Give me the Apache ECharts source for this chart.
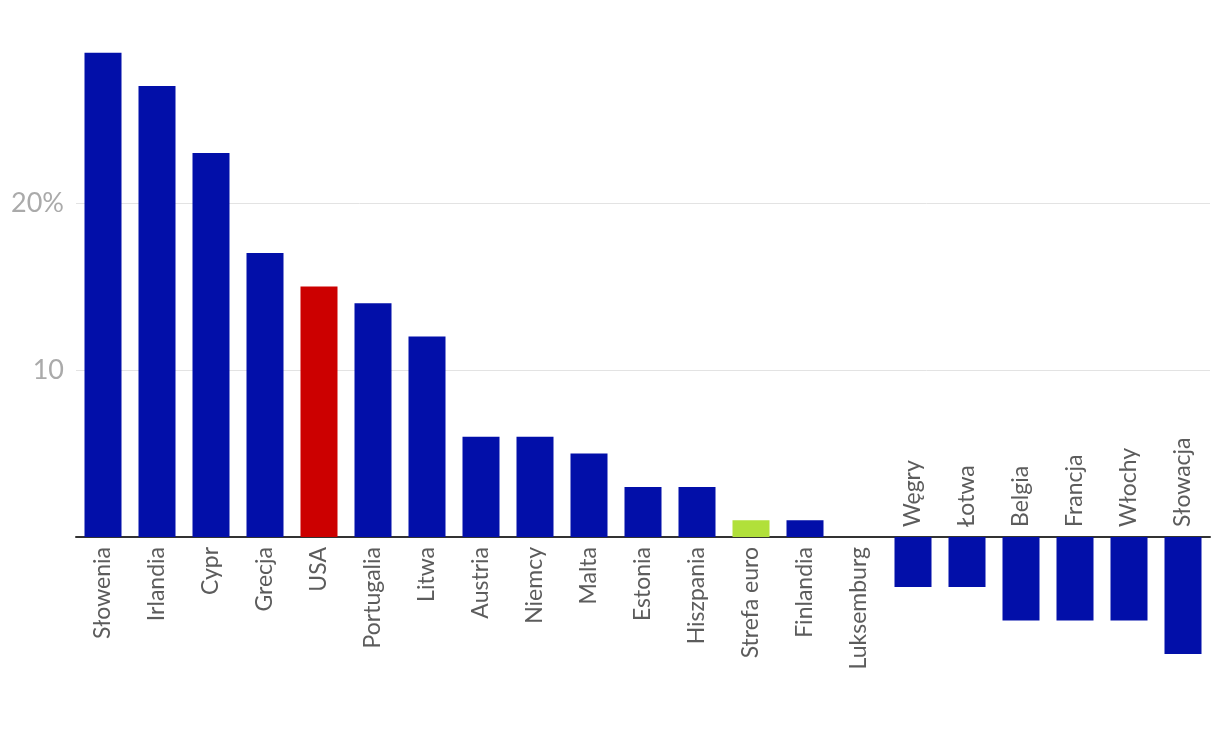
<!DOCTYPE html>
<html>
<head>
<meta charset="utf-8">
<script src="https://cdn.jsdelivr.net/npm/echarts@6/dist/echarts.min.js"></script>
<style>html,body{margin:0;padding:0;background:#fff}#c{width:1220px;height:742px}</style>
</head>
<body>
<div id="c"></div>
<script>
const categories = ['Słowenia','Irlandia','Cypr','Grecja','USA','Portugalia','Litwa','Austria','Niemcy','Malta','Estonia','Hiszpania','Strefa euro','Finlandia','Luksemburg','Węgry','Łotwa','Belgia','Francja','Włochy','Słowacja'];
const values = [29,27,23,17,15,14,12,6,6,5,3,3,1,1,0,-3,-3,-5,-5,-5,-7];
const highlight = {'USA':'#cc0000','Strefa euro':'#b1e03a'};
const baseColor = '#020fa9';
const yTicks = {10:'10',20:'20%'};

const chart = echarts.init(document.getElementById('c'), null, {renderer:'canvas'});
const FONT = 'Lato';
chart.setOption({
  animation:false,
  backgroundColor:'#fff',
  grid:{left:76,right:10,top:36,bottom:38},
  xAxis:{
    type:'category', data:categories,
    axisLine:{onZero:true,lineStyle:{color:'#333',width:2}},
    axisTick:{show:false}, axisLabel:{show:false}
  },
  yAxis:{
    type:'value', min:-10, max:30, interval:10,
    axisLine:{show:false}, axisTick:{show:false},
    axisLabel:{formatter:v=>yTicks[v]||'', color:'#aaa', fontSize:27, fontFamily:FONT, margin:12},
    splitLine:{lineStyle:{color:['transparent','transparent','#e3e3e3','#e3e3e3','transparent'],width:1}}
  },
  series:[
    {
      type:'bar', barWidth:37,
      data:values.map((v,i)=>({value:v,itemStyle:{color:highlight[categories[i]]||baseColor}}))
    },
    {
      type:'scatter', symbolSize:0, silent:true,
      data:categories.map((c,i)=>{
        const neg = values[i] < 0;
        return {value:[c,0],label:{
          show:true, formatter:c, rotate:90,
          position: neg ? 'top' : 'bottom',
          align: neg ? 'left' : 'right',
          verticalAlign:'middle',
          distance: neg ? 10 : 10,
          color:'#333', fontSize:23, fontFamily:FONT
        }};
      })
    }
  ]
});
</script>
</body>
</html>
